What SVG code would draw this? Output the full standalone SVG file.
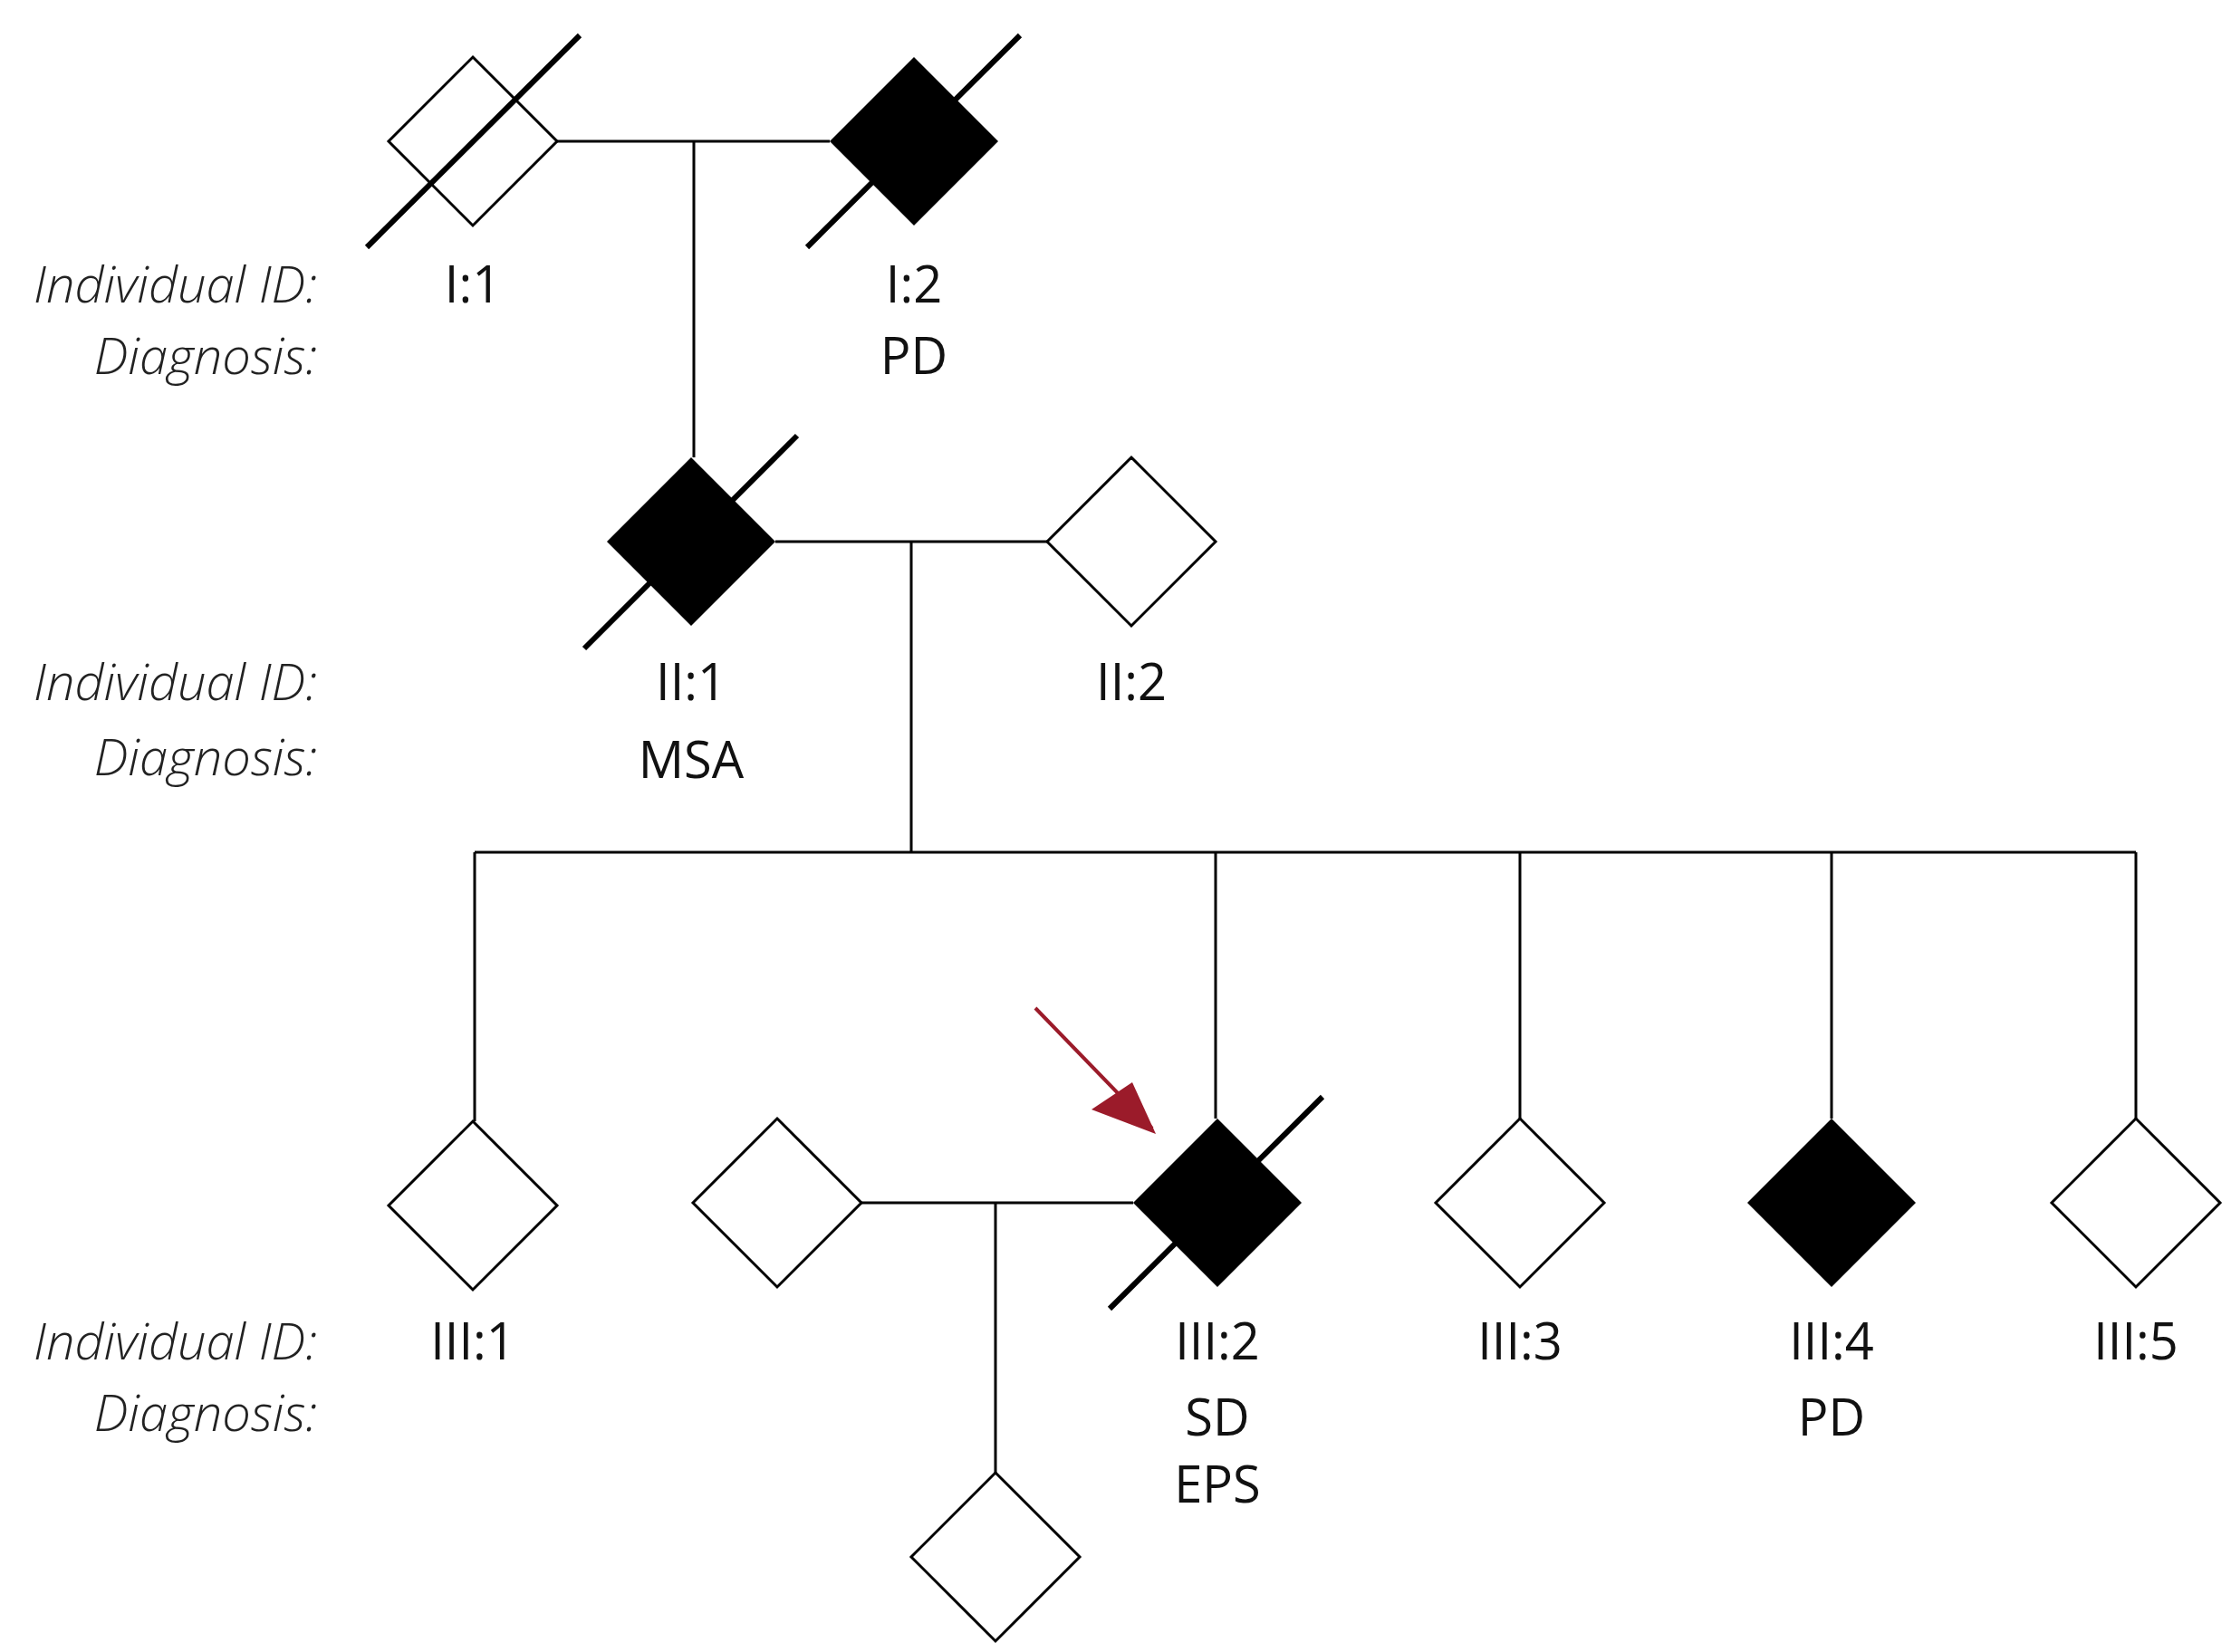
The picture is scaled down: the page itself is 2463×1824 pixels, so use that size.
<svg xmlns="http://www.w3.org/2000/svg" width="2463" height="1824" viewBox="0 0 2463 1824">
<style>
.d{stroke:#000;stroke-width:3;fill:#fff}
.a{fill:#000}
.l{stroke:#000;stroke-width:3;fill:none}
.s{stroke:#000;stroke-width:6}
.t{font-family:"Open Sans",sans-serif;font-size:56px;fill:#111;text-anchor:middle}
.h{font-family:"Open Sans",sans-serif;font-style:italic;font-weight:300;font-size:56px;fill:#222;text-anchor:end}
</style>
<defs>
<path id="dm" d="M0,-93 L93,0 L0,93 L-93,0 Z"/>
<marker id="ar" viewBox="0 0 10 10" refX="9" refY="5" markerWidth="6" markerHeight="6" orient="auto" markerUnits="userSpaceOnUse"><path d="M0,0 L10,5 L0,10 Z" fill="#9b1b2a"/></marker>
</defs>
<rect width="2463" height="1824" fill="#fff"/>
<g id="connectors">
<path class="l" d="M612,156H916M766,156V505M856,598H1156M1006,598V941M524,941H2358M524,941V1238M1342,941V1235M1678,941V1235M2022,941V1235M2358,941V1235M951,1328H1251M1099,1328V1626"/>
<line x1="1143" y1="1113" x2="1272" y2="1246" stroke="#9b1b2a" stroke-width="4"/>
<path d="M1276,1252 L1205,1225 L1250,1195 Z" fill="#9b1b2a"/>
</g>
<g id="labels">
<text class="h" x="350" y="334">Individual ID:</text><text class="h" x="350" y="413">Diagnosis:</text>
<text class="h" x="350" y="773">Individual ID:</text><text class="h" x="350" y="856">Diagnosis:</text>
<text class="h" x="350" y="1501">Individual ID:</text><text class="h" x="350" y="1580">Diagnosis:</text>
</g>
<g id="I1"><use href="#dm" class="d" x="522" y="156"/><line class="s" x1="405" y1="273" x2="640" y2="39"/><text class="t" x="522" y="334">I:1</text></g>
<g id="I2"><use href="#dm" class="a" x="1009" y="156"/><line class="s" x1="891" y1="273" x2="1126" y2="39"/><text class="t" x="1009" y="334">I:2</text><text class="t" x="1009" y="413">PD</text></g>
<g id="II1"><use href="#dm" class="a" x="763" y="598"/><line class="s" x1="645" y1="716" x2="880" y2="481"/><text class="t" x="763" y="773">II:1</text><text class="t" x="763" y="859">MSA</text></g>
<g id="II2"><use href="#dm" class="d" x="1249" y="598"/><text class="t" x="1249" y="773">II:2</text></g>
<g id="III1"><use href="#dm" class="d" x="522" y="1331"/><text class="t" x="522" y="1501">III:1</text></g>
<g id="III2spouse"><use href="#dm" class="d" x="858" y="1328"/></g>
<g id="III2"><use href="#dm" class="a" x="1344" y="1328"/><line class="s" x1="1225" y1="1445" x2="1460" y2="1211"/><text class="t" x="1344" y="1501">III:2</text><text class="t" x="1344" y="1585">SD</text><text class="t" x="1344" y="1659">EPS</text></g>
<g id="III3"><use href="#dm" class="d" x="1678" y="1328"/><text class="t" x="1678" y="1501">III:3</text></g>
<g id="III4"><use href="#dm" class="a" x="2022" y="1328"/><text class="t" x="2022" y="1501">III:4</text><text class="t" x="2022" y="1585">PD</text></g>
<g id="III5"><use href="#dm" class="d" x="2358" y="1328"/><text class="t" x="2358" y="1501">III:5</text></g>
<g id="IV1"><use href="#dm" class="d" x="1099" y="1719"/></g>
</svg>
